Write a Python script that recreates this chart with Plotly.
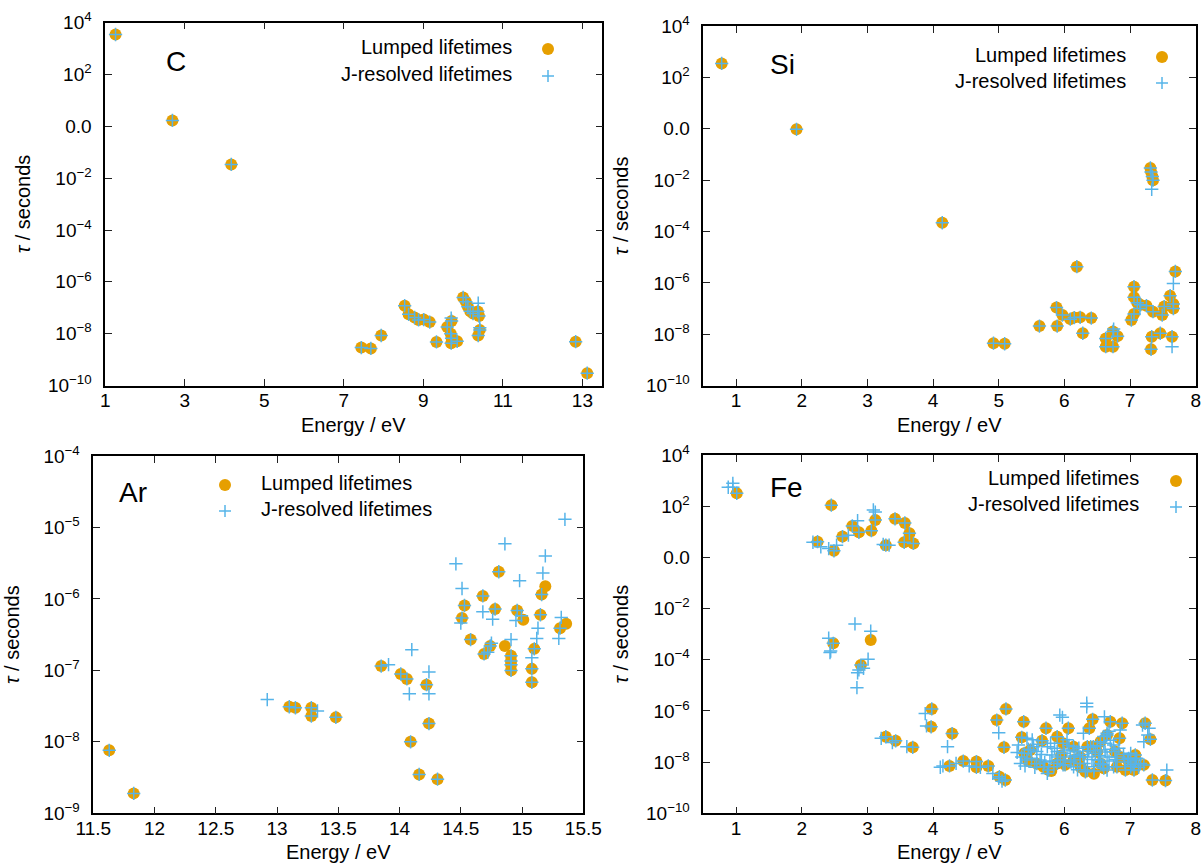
import plotly.graph_objects as go

# ---------------- data (energy in eV, lifetime tau in seconds) ----------------
# Carbon
c_shared_energy = [1.26, 2.69, 4.17, 7.44, 7.68, 7.94, 8.53, 8.63, 8.78, 8.88, 9.01, 9.16, 9.33,
                   9.60, 9.71, 9.69, 9.71, 9.70, 9.85, 10.00, 10.07, 10.12, 10.18, 10.25, 10.37,
                   10.40, 10.42, 10.38, 12.83, 13.12]
c_shared_tau = [3.5e3, 1.7e0, 3.4e-2, 2.9e-9, 2.7e-9, 8.5e-9, 1.2e-7, 5.6e-8, 4.2e-8, 3.4e-8, 3.5e-8,
                2.8e-8, 4.8e-9, 1.8e-8, 3.1e-8, 1.0e-8, 6.6e-9, 4.3e-9, 5.1e-9, 2.5e-7, 1.7e-7,
                1.1e-7, 7.4e-8, 6.0e-8, 7.1e-8, 4.8e-8, 1.4e-8, 8.5e-9, 4.9e-9, 3.0e-10]
c_lumped_only_energy = []
c_lumped_only_tau = []
c_jonly_energy = [10.38, 9.70, 10.42]
c_jonly_tau = [1.5e-7, 4.0e-8, 1.7e-8]

# Silicon
si_shared_energy = [0.78, 1.92, 4.14, 7.31, 7.32, 7.34, 7.35, 6.19, 4.92, 5.09, 5.62, 5.88, 5.89,
                    5.97, 6.09, 6.15, 6.24, 6.41, 6.28, 6.63, 6.63, 6.74, 6.74, 6.81, 7.06, 7.06,
                    7.11, 7.16, 7.25, 7.02, 7.06, 7.35, 7.49, 7.52, 7.66, 7.66, 7.61, 7.69, 7.33,
                    7.46, 7.32, 7.64]
si_shared_tau = [3.5e2, 9.5e-1, 2.2e-4, 3.0e-2, 2.1e-2, 1.4e-2, 1.0e-2, 4.3e-6, 4.5e-9, 4.3e-9,
                 2.1e-8, 1.1e-7, 2.1e-8, 5.6e-8, 3.9e-8, 4.5e-8, 4.6e-8, 4.3e-8, 1.1e-8, 6.9e-9,
                 3.3e-9, 3.3e-9, 1.3e-8, 8.5e-9, 7.1e-7, 2.8e-7, 1.7e-7, 1.4e-7, 1.3e-7, 3.6e-8,
                 6.2e-8, 7.6e-8, 5.6e-8, 1.2e-7, 1.5e-7, 1.0e-7, 3.2e-7, 2.8e-6, 8.1e-9, 1.1e-8,
                 2.6e-9, 8.1e-9]
si_lumped_only_energy = []
si_lumped_only_tau = []
si_jonly_energy = [7.33, 7.66, 7.64, 6.75, 7.15]
si_jonly_tau = [4.4e-3, 9.5e-7, 3.3e-9, 1.6e-8, 1.0e-7]

# Argon
ar_shared_energy = [11.63, 11.83, 13.10, 13.15, 13.28, 13.28, 13.48, 13.85, 14.01, 14.06, 14.09,
                    14.16, 14.22, 14.24, 14.31, 14.51, 14.53, 14.58, 14.68, 14.69, 14.74, 14.78,
                    14.81, 14.91, 14.91, 14.91, 14.91, 14.96, 15.08, 15.08, 15.10, 15.15, 15.16,
                    15.31]
ar_shared_tau = [7.6e-9, 1.9e-9, 3.1e-8, 3.0e-8, 2.3e-8, 3.0e-8, 2.2e-8, 1.15e-7, 8.9e-8, 7.6e-8,
                 1.0e-8, 3.5e-9, 6.3e-8, 1.8e-8, 3.0e-9, 5.4e-7, 8.1e-7, 2.7e-7, 1.1e-6, 1.7e-7,
                 2.2e-7, 7.2e-7, 2.4e-6, 1.6e-7, 1.35e-7, 1.2e-7, 1.0e-7, 6.9e-7, 1.05e-7, 6.8e-8,
                 2.0e-7, 6.0e-7, 1.15e-6, 3.9e-7]
ar_lumped_only_energy = [14.86, 15.01, 15.19, 15.36]
ar_lumped_only_tau = [2.2e-7, 5.1e-7, 1.5e-6, 4.5e-7]
ar_jonly_energy = [12.92, 13.33, 13.91, 14.10, 14.08, 14.24, 14.24, 14.86, 15.19, 14.46, 15.17,
                   14.98, 14.51, 14.68, 14.76, 14.95, 14.50, 15.13, 15.32, 15.30, 15.12, 14.91,
                   15.08, 15.35, 14.995, 14.72, 14.75]
ar_jonly_tau = [3.9e-8, 2.7e-8, 1.2e-7, 1.95e-7, 4.7e-8, 9.5e-8, 4.7e-8, 5.9e-6, 4.0e-6, 3.1e-6,
                2.3e-6, 1.8e-6, 1.4e-6, 6.6e-7, 5.2e-7, 5.0e-7, 4.6e-7, 3.9e-7, 5.5e-7, 2.8e-7,
                2.8e-7, 2.7e-7, 1.5e-7, 1.3e-5, 5.8e-7, 1.8e-7, 2.4e-7]

# Iron
fe_shared_energy = [1.01, 2.45, 2.24, 2.49, 2.62, 2.77, 2.87, 3.06, 3.12, 3.28, 3.42, 3.57, 3.64,
                    3.56, 3.70, 2.48, 2.90,
                    3.98, 3.97, 3.28, 3.43, 3.69, 4.29, 4.25, 4.46, 4.66, 4.66, 4.84, 5.01, 5.10,
                    4.97, 5.11, 5.08, 5.38, 5.35, 5.39, 5.66, 5.72, 5.76, 5.89, 5.98, 6.06, 6.14,
                    6.01, 6.24, 6.32, 6.38, 6.43, 6.44, 6.60, 6.70, 6.88, 6.84, 6.77, 6.93, 7.08,
                    7.21, 7.23, 7.31, 7.34, 7.54, 6.55, 6.65, 6.96, 7.06, 5.48, 5.58, 5.68, 5.89,
                    6.14, 6.55, 6.80, 6.35, 7.06]
fe_shared_tau = [3.2e2, 1.1e2, 4.1e0, 1.8e0, 6.5e0, 1.7e1, 9.5e0, 1.1e1, 2.9e1, 3.0e0, 3.2e1,
                 2.2e1, 8.7e0, 3.9e0, 3.5e0, 4.4e-4, 6.2e-5,
                 1.2e-6, 2.4e-7, 9.8e-8, 6.8e-8, 3.8e-8, 1.3e-7, 7.1e-9, 1.1e-8, 1.05e-8, 6.3e-9,
                 7.1e-9, 2.7e-9, 2.0e-9, 4.4e-7, 1.2e-6, 3.8e-8, 3.8e-7, 9.3e-8, 2.2e-8, 6.9e-8,
                 2.1e-7, 4.9e-9, 9.8e-8, 5.4e-8, 2.1e-7, 4.0e-8, 7.8e-9, 1.6e-8, 4.2e-9, 2.1e-7,
                 4.7e-7, 4.0e-8, 5.8e-9, 3.8e-7, 3.3e-7, 8.5e-8, 2.6e-8, 4.9e-9, 1.9e-8, 7.8e-9,
                 3.3e-7, 7.8e-8, 2.0e-9, 1.9e-9, 6.3e-8, 1.15e-7, 1.3e-8, 8.3e-9, 3.0e-8, 8.7e-9,
                 6.6e-9, 8.9e-9, 1.2e-8, 8.9e-9, 6.6e-9, 4.0e-8, 4.9e-9]
fe_lumped_only_energy = [3.05, 5.45, 5.95, 6.25, 6.50, 6.85, 5.80, 6.45]
fe_lumped_only_tau = [5.9e-4, 1.1e-8, 1.8e-8, 6.3e-9, 2.5e-8, 1.6e-8, 4.5e-9, 3.5e-9]
fe_jonly_energy = [0.88, 0.95, 0.95, 2.17, 2.29, 2.41, 2.53, 2.71, 2.85, 3.09, 3.12, 3.24, 3.33,
                   2.41, 2.44, 2.43, 2.81, 3.05, 3.01, 2.94, 2.85, 2.87, 2.84,
                   3.88, 3.90, 3.21, 3.38, 3.60, 4.22, 5.00, 4.11, 4.15, 4.35, 4.55, 4.72, 4.91,
                   5.00, 5.05, 5.30, 5.33, 5.28, 6.34, 6.34, 5.93, 5.97, 6.61, 7.56, 7.19,
                   5.43, 5.51, 5.53, 5.43, 5.58, 5.74, 5.81, 5.89, 6.04, 6.09, 6.19, 6.24, 6.35,
                   6.40, 6.47, 6.52, 6.55, 6.60, 6.65, 6.75, 6.80, 6.85, 7.01, 7.08, 7.16, 7.29,
                   7.27, 7.21, 5.74, 5.84, 6.14, 6.45, 6.75, 7.01, 5.63, 5.94, 6.35, 6.65, 6.04,
                   5.79, 6.65, 6.29,
                   5.35, 5.40, 5.45, 5.50, 5.55, 5.60, 5.65, 5.70, 5.78, 5.85, 5.90, 5.98, 6.00,
                   6.07, 6.10, 6.16, 6.20, 6.22, 6.28, 6.30, 6.37, 6.42, 6.45, 6.50, 6.53, 6.58,
                   6.62, 6.68, 6.70, 6.72, 6.78, 6.83, 6.90, 6.92, 6.98, 7.03, 7.10, 7.13, 6.68,
                   6.60]
fe_jonly_tau = [5.5e2, 7.8e2, 5.5e2, 3.9e0, 2.6e0, 2.2e0, 3.0e0, 7.4e0, 2.7e1, 7.1e1, 5.9e1,
                3.2e0, 3.0e0,
                6.9e-4, 2.2e-4, 1.9e-4, 2.5e-3, 1.3e-3, 1.05e-4, 4.6e-5, 3.1e-5, 4.0e-5, 8.1e-6,
                7.9e-7, 2.6e-7, 8.5e-8, 5.8e-8, 4.0e-8, 4.0e-8, 1.4e-7, 6.3e-9, 7.1e-9, 8.9e-9,
                7.1e-9, 6.3e-9, 3.6e-9, 2.3e-9, 1.8e-9, 4.7e-8, 8.9e-9, 2.4e-8, 2.0e-6, 1.45e-6,
                6.9e-7, 5.6e-7, 5.9e-7, 4.9e-9, 2.8e-7,
                8.5e-8, 7.4e-8, 4.0e-8, 1.2e-8, 2.6e-8, 4.0e-8, 1.9e-8, 2.6e-8, 3.0e-8, 1.6e-8,
                2.6e-8, 8.9e-9, 1.6e-8, 4.0e-8, 2.2e-8, 1.2e-8, 3.0e-8, 5.5e-8, 1.6e-8, 4.7e-8,
                1.6e-8, 1.8e-7, 2.2e-8, 1.2e-8, 8.9e-9, 2.1e-7, 1.15e-7, 6.3e-8, 3.6e-9, 6.6e-9,
                6.6e-9, 6.6e-9, 6.6e-9, 6.6e-9, 1.2e-8, 1.2e-8, 4.9e-9, 4.9e-9, 7.4e-8, 5.5e-8,
                1.35e-7, 1.35e-7,
                1.6e-8, 7.1e-9, 3.2e-8, 1.4e-8, 6.3e-9, 5.0e-8, 2.0e-8, 1.0e-8, 1.1e-8, 3.5e-8,
                1.6e-8, 7.9e-9, 2.2e-8, 4.5e-8, 1.0e-8, 1.8e-8, 5.0e-9, 3.5e-8, 2.0e-8, 8.9e-9,
                2.8e-8, 1.26e-8, 4.5e-9, 4.5e-8, 1.8e-8, 7.9e-9, 2.5e-8, 1.1e-8, 7.1e-8, 3.2e-8,
                1.26e-8, 3.5e-8, 2.0e-8, 1.0e-8, 1.4e-8, 7.9e-9, 1.4e-8, 6.3e-9, 1.6e-7, 1.0e-7]

# tick definitions
wide_tau_ticks = [1e4, 1e2, 1e0, 1e-2, 1e-4, 1e-6, 1e-8, 1e-10]
wide_tau_labels = ["10<sup>4</sup>", "10<sup>2</sup>", "0.0", "10<sup>−2</sup>", "10<sup>−4</sup>",
                   "10<sup>−6</sup>", "10<sup>−8</sup>", "10<sup>−10</sup>"]
ar_tau_ticks = [1e-4, 1e-5, 1e-6, 1e-7, 1e-8, 1e-9]
ar_tau_labels = ["10<sup>−4</sup>", "10<sup>−5</sup>", "10<sup>−6</sup>", "10<sup>−7</sup>",
                 "10<sup>−8</sup>", "10<sup>−9</sup>"]
c_energy_ticks = [1, 3, 5, 7, 9, 11, 13]
si_energy_ticks = [1, 2, 3, 4, 5, 6, 7, 8]
ar_energy_ticks = [11.5, 12, 12.5, 13, 13.5, 14, 14.5, 15, 15.5]
ar_energy_labels = ["11.5", "12", "12.5", "13", "13.5", "14", "14.5", "15", "15.5"]
fe_energy_ticks = [1, 2, 3, 4, 5, 6, 7, 8]

LUMPED = "#E69F00"
JRES = "#56B4E9"
FONT = "Liberation Sans, Arial, Helvetica, sans-serif"
W, H = 1203, 864


def px(x):
    return x / W


def py(y):
    return 1 - y / H


panels = [
    dict(label="C", n="", energy=(c_shared_energy, c_lumped_only_energy, c_jonly_energy),
         tau=(c_shared_tau, c_lumped_only_tau, c_jonly_tau),
         box=(105.2, 602.3, 22.7, 385.5), xr=[1, 13.5], yr=[-10, 4],
         xt=c_energy_ticks, xl=None, yt=wide_tau_ticks, yl=wide_tau_labels,
         lab=(176, 61), leg=("right", 514, 47, 74, 548, 49, 76)),
    dict(label="Si", n="2", energy=(si_shared_energy, si_lumped_only_energy, si_jonly_energy),
         tau=(si_shared_tau, si_lumped_only_tau, si_jonly_tau),
         box=(703.3, 1195.7, 26.0, 385.7), xr=[0.5, 8], yr=[-10, 4],
         xt=si_energy_ticks, xl=None, yt=wide_tau_ticks, yl=wide_tau_labels,
         lab=(782, 64), leg=("right", 1128, 55, 81, 1162, 57, 83)),
    dict(label="Ar", n="3", energy=(ar_shared_energy, ar_lumped_only_energy, ar_jonly_energy),
         tau=(ar_shared_tau, ar_lumped_only_tau, ar_jonly_tau),
         box=(93.3, 583.3, 456.0, 813.3), xr=[11.5, 15.5], yr=[-9, -4],
         xt=ar_energy_ticks, xl=ar_energy_labels, yt=ar_tau_ticks, yl=ar_tau_labels,
         lab=(133, 492), leg=("left", 259, 483, 509, 225, 485, 511)),
    dict(label="Fe", n="4", energy=(fe_shared_energy, fe_lumped_only_energy, fe_jonly_energy),
         tau=(fe_shared_tau, fe_lumped_only_tau, fe_jonly_tau),
         box=(703.3, 1195.7, 455.0, 813.3), xr=[0.5, 8], yr=[-10, 4],
         xt=fe_energy_ticks, xl=None, yt=wide_tau_ticks, yl=wide_tau_labels,
         lab=(786, 487), leg=("right", 1141, 478, 504, 1176, 481, 507)),
]

fig = go.Figure()
annotations = []
shapes = []

for p in panels:
    n = p["n"]
    xa, ya = "x" + n, "y" + n
    sh_e, lo_e, jo_e = p["energy"]
    sh_t, lo_t, jo_t = p["tau"]
    fig.add_trace(go.Scatter(
        x=sh_e + lo_e, y=sh_t + lo_t, mode="markers", xaxis=xa, yaxis=ya,
        name="Lumped lifetimes", showlegend=False,
        marker=dict(symbol="circle", size=12, color=LUMPED, line=dict(width=0))))
    fig.add_trace(go.Scatter(
        x=sh_e + jo_e, y=sh_t + jo_t, mode="markers", xaxis=xa, yaxis=ya,
        name="J-resolved lifetimes", showlegend=False,
        marker=dict(symbol="cross-thin", size=9.5, color=JRES,
                    line=dict(width=1.5, color=JRES))))

    x0, x1, y0, y1 = p["box"]
    axis_common = dict(ticks="inside", ticklen=7, tickwidth=1.2, tickcolor="#222",
                       showline=True, linecolor="black", linewidth=1.5, mirror="ticks",
                       showgrid=False, zeroline=False, automargin=False,
                       tickfont=dict(family=FONT, size=19, color="black"))
    xdict = dict(domain=[px(x0), px(x1)], range=p["xr"], anchor=ya, tickvals=p["xt"],
                 ticklabelstandoff=-3, **axis_common)
    if p["xl"] is not None:
        xdict["ticktext"] = p["xl"]
    ydict = dict(domain=[py(y1), py(y0)], type="log", range=p["yr"], anchor=xa,
                 tickvals=p["yt"], ticktext=p["yl"], ticklabelstandoff=8, **axis_common)
    fig.update_layout({("xaxis" + n): xdict, ("yaxis" + n): ydict})

    # panel label
    lx, ly = p["lab"]
    annotations.append(dict(text=p["label"], x=px(lx), y=py(ly), xref="paper", yref="paper",
                            xanchor="center", yanchor="middle", showarrow=False,
                            font=dict(family=FONT, size=28, color="black")))
    # axis titles
    annotations.append(dict(text="Energy / eV", x=px((x0 + x1) / 2), y=py(y1 + 39),
                            xref="paper", yref="paper", xanchor="center", yanchor="middle",
                            showarrow=False, font=dict(family=FONT, size=20, color="black")))
    annotations.append(dict(text="<i>τ</i> / seconds", x=px(x0 - 82), y=py((y0 + y1) / 2),
                            xref="paper", yref="paper", xanchor="center", yanchor="middle",
                            textangle=-90, showarrow=False,
                            font=dict(family=FONT, size=20, color="black")))
    # legend (text + key)
    side, tx, ty1, ty2, mx, my1, my2 = p["leg"]
    for txt, ty in (("Lumped lifetimes", ty1), ("J-resolved lifetimes", ty2)):
        annotations.append(dict(text=txt, x=px(tx), y=py(ty), xref="paper", yref="paper",
                                xanchor=side, yanchor="middle", showarrow=False,
                                font=dict(family=FONT, size=20, color="black")))
    shapes.append(dict(type="circle", xref="paper", yref="paper", xsizemode="pixel",
                       ysizemode="pixel", xanchor=px(mx), yanchor=py(my1),
                       x0=-6, x1=6, y0=-6, y1=6, fillcolor=LUMPED,
                       line=dict(width=0)))
    shapes.append(dict(type="line", xref="paper", yref="paper", xsizemode="pixel",
                       ysizemode="pixel", xanchor=px(mx), yanchor=py(my2),
                       x0=-6, x1=6, y0=0, y1=0, line=dict(color=JRES, width=1.5)))
    shapes.append(dict(type="line", xref="paper", yref="paper", xsizemode="pixel",
                       ysizemode="pixel", xanchor=px(mx), yanchor=py(my2),
                       x0=0, x1=0, y0=-6, y1=6, line=dict(color=JRES, width=1.5)))

fig.update_layout(width=W, height=H, margin=dict(l=0, r=0, t=0, b=0, autoexpand=False),
                  paper_bgcolor="white", plot_bgcolor="white",
                  font=dict(family=FONT, color="black"),
                  annotations=annotations, shapes=shapes, showlegend=False)

fig.write_html("out.html", config={"displayModeBar": False},
               post_script="document.body.style.margin='0px';document.body.style.padding='0px';"
                           "document.documentElement.style.overflow='hidden';")
